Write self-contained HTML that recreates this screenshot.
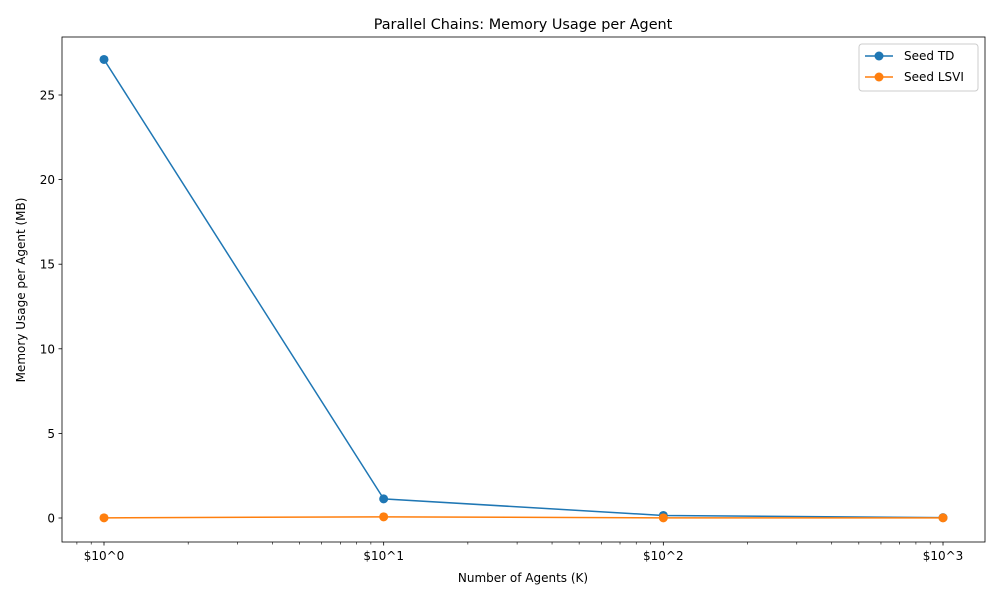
<!DOCTYPE html>
<html><head><meta charset="utf-8"><style>
body{margin:0;background:#fff;}
svg text{font-family:"DejaVu Sans","Liberation Sans",sans-serif;fill:#000;}
</style></head><body>
<svg id="chart" width="1000" height="600" xmlns="http://www.w3.org/2000/svg">
<rect width="1000" height="600" fill="#fff"/>
<text x="523" y="29" font-size="14.4" text-anchor="middle">Parallel Chains: Memory Usage per Agent</text>
<g id="grid"></g>
<g id="series"></g>
<rect x="62" y="37" width="923" height="505" fill="none" stroke="#000" stroke-width="0.8"/>
<g id="axes"></g>
<text x="523" y="582" font-size="12" text-anchor="middle">Number of Agents (K)</text>
<text transform="translate(25,290) rotate(-90)" font-size="12" text-anchor="middle">Memory Usage per Agent (MB)</text>
<g id="legend">
<rect x="859" y="44" width="119" height="47" fill="#fff" stroke="#ccc" rx="3"/>
<line x1="865" y1="56" x2="893" y2="56" stroke="#1f77b4" stroke-width="1.5"/><circle cx="879" cy="56" r="4.5" fill="#1f77b4"/>
<text x="904" y="60" font-size="12">Seed TD</text>
<line x1="865" y1="77" x2="893" y2="77" stroke="#ff7f0e" stroke-width="1.5"/><circle cx="879" cy="77" r="4.5" fill="#ff7f0e"/>
<text x="904" y="81" font-size="12">Seed LSVI</text>
</g>
</svg>
<script>
const agents=[1,10,100,1000];
const seedTD=[27.1,1.13,0.15,0.02];
const seedLSVI=[0.01,0.07,0.01,0.01];
const xTickLabels=["$10^0","$10^1","$10^2","$10^3"];
const yTicks=[0,5,10,15,20,25];
const NS="http://www.w3.org/2000/svg";
function xs(v){return 104+Math.log10(v)*279.67;}
function ys(v){return 518-v*16.92;}
const axes=document.getElementById('axes');
function mk(tag,attrs,parent){const e=document.createElementNS(NS,tag);for(const k in attrs)e.setAttribute(k,attrs[k]);parent.appendChild(e);return e;}
// minor ticks
for(let d=-1;d<4;d++){for(let m=2;m<10;m++){const v=m*Math.pow(10,d);const x=xs(v);if(x<62||x>985)continue;
const t=mk('line',{x1:x,x2:x,y1:542,y2:544.5,stroke:'#000','stroke-width':0.6},axes);

}}
agents.forEach((a,i)=>{const x=xs(a);
const t=mk('line',{x1:x,x2:x,y1:542,y2:545.5,stroke:'#000','stroke-width':0.8},axes);


const l=mk('text',{x:x,y:560,'font-size':12,'text-anchor':'middle'},axes);l.textContent=xTickLabels[i];

});
yTicks.forEach(v=>{const y=ys(v);
const t=mk('line',{x1:58.5,x2:62,y1:y,y2:y,stroke:'#000','stroke-width':0.8},axes);


const l=mk('text',{x:55,y:y+4.5,'font-size':12,'text-anchor':'end'},axes);l.textContent=v;

});
const series=document.getElementById('series');
function draw(vals,color,name){
const p=mk('polyline',{points:agents.map((a,i)=>xs(a)+','+ys(vals[i])).join(' '),fill:'none',stroke:color,'stroke-width':1.5},series);


agents.forEach((a,i)=>{const c=mk('circle',{cx:xs(a),cy:ys(vals[i]),r:4.5,fill:color},series);

});}
draw(seedTD,'#1f77b4','seed-td');
draw(seedLSVI,'#ff7f0e','seed-lsvi');
</script>
</body></html>
